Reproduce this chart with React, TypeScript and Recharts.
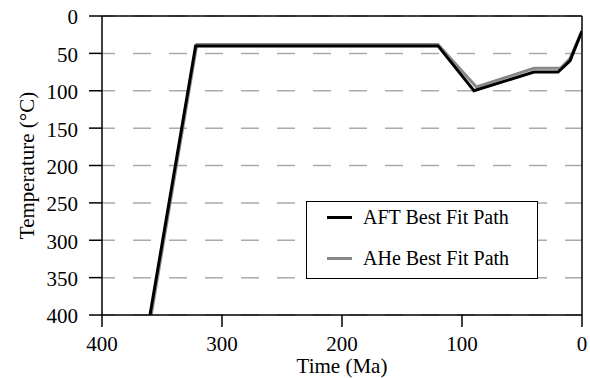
import React from "react";
import {
  LineChart,
  Line,
  XAxis,
  YAxis,
  CartesianGrid,
  Legend,
  ReferenceLine,
} from "recharts";

// time before present (Ma) and temperature (°C) for each best fit path
const aftTime = [360, 322, 120, 90, 40, 20, 10, 0];
const aftTemp = [400, 40, 40, 100, 75, 75, 60, 20];
const aheTime = [359, 321, 120, 88, 40, 18, 10, 0];
const aheTemp = [400, 38, 38, 95, 70, 70, 57, 20];

const timeTicks = [400, 300, 200, 100, 0];
const tempTicks = [0, 50, 100, 150, 200, 250, 300, 350, 400];

const seriesNames = ["AFT Best Fit Path", "AHe Best Fit Path"];

const aftData = aftTime.map((t, i) => ({ time: t, temp: aftTemp[i] }));
const aheData = aheTime.map((t, i) => ({ time: t, temp: aheTemp[i] }));

const FONT = '"Liberation Serif", "Times New Roman", serif';
const textStyle = { fontFamily: FONT, fontSize: 21, fill: "#000" };

const renderLegend = () => (
  <div
    style={{
      position: "relative",
      width: 232,
      height: 78,
      border: "1.5px solid #000",
      boxSizing: "border-box",
      background: "#fff",
      fontFamily: FONT,
      fontSize: 20,
      color: "#000",
    }}
  >
    {[
      { name: seriesNames[0], color: "#000", top: 15 },
      { name: seriesNames[1], color: "#888", top: 56 },
    ].map((row) => (
      <div key={row.name}>
        <div
          style={{
            position: "absolute",
            left: 20,
            top: row.top - 1.5,
            width: 25,
            height: 3,
            background: row.color,
          }}
        />
        <div
          style={{
            position: "absolute",
            left: 56,
            top: row.top - 12,
            lineHeight: "24px",
            whiteSpace: "nowrap",
          }}
        >
          {row.name}
        </div>
      </div>
    ))}
  </div>
);

const XTick = (props: any) => (
  <text
    x={props.x}
    y={props.y}
    dy="0.71em"
    textAnchor="middle"
    style={textStyle}
  >
    {props.payload.value}
  </text>
);

const YTick = (props: any) => (
  <text x={props.x} y={props.y} dy="0.4em" textAnchor="end" style={textStyle}>
    {props.payload.value}
  </text>
);

const App: React.FC = () => {
  return (
    <div style={{ position: "absolute", left: 0, top: 0, background: "#fff" }}>
      <LineChart
        width={590}
        height={378}
        margin={{ top: 16, right: 8, left: 0, bottom: 0 }}
      >
        <CartesianGrid
          vertical={false}
          stroke="#aaa"
          strokeWidth={1.5}
          strokeDasharray="18 18"
          strokeDashoffset={5}
        />
        <XAxis
          type="number"
          dataKey="time"
          domain={[0, 400]}
          ticks={timeTicks}
          reversed
          allowDataOverflow
          height={63}
          tickSize={12}
          tickMargin={9}
          tick={<XTick />}
          stroke="#000"
          strokeWidth={1.5}
          label={{
            value: "Time (Ma)",
            position: "insideBottom",
            offset: 5,
            style: textStyle,
          }}
        />
        <YAxis
          type="number"
          dataKey="temp"
          domain={[0, 400]}
          ticks={tempTicks}
          reversed
          allowDataOverflow
          width={102}
          tickSize={13}
          tickMargin={11}
          tick={<YTick />}
          stroke="#000"
          strokeWidth={1.5}
          label={{
            value: "Temperature (°C)",
            angle: -90,
            position: "insideLeft",
            offset: 27,
            style: { ...textStyle, textAnchor: "middle" },
          }}
        />
        <ReferenceLine y={0} stroke="#000" strokeWidth={1.5} />
        <ReferenceLine x={0} stroke="#000" strokeWidth={1.5} />
        <Legend
          layout="vertical"
          align="center"
          verticalAlign="middle"
          content={renderLegend}
          wrapperStyle={{ left: 306, top: 201, width: 232, height: 78 }}
        />
        <Line
          data={aheData}
          dataKey="temp"
          name={seriesNames[1]}
          type="linear"
          stroke="#888"
          strokeWidth={3}
          dot={false}
          isAnimationActive={false}
        />
        <Line
          data={aftData}
          dataKey="temp"
          name={seriesNames[0]}
          type="linear"
          stroke="#000"
          strokeWidth={3}
          dot={false}
          isAnimationActive={false}
        />
      </LineChart>
    </div>
  );
};

export default App;
